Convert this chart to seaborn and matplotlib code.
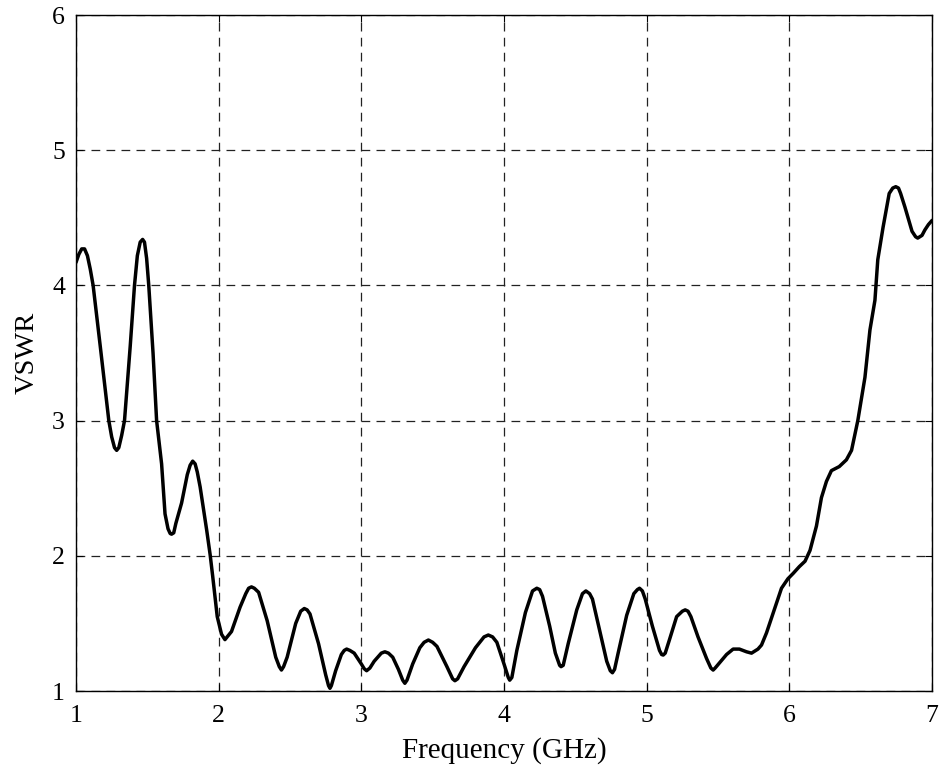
import matplotlib
matplotlib.use("Agg")
import matplotlib.pyplot as plt
import seaborn as sns
import pandas as pd

freq = [1.00, 1.02, 1.04, 1.06, 1.08, 1.10, 1.12, 1.17, 1.23, 1.25, 1.27, 1.285, 1.30, 1.32, 1.34,
        1.38, 1.41, 1.43, 1.45, 1.467, 1.48, 1.495, 1.51, 1.54, 1.565, 1.60, 1.624, 1.645, 1.66,
        1.67, 1.685, 1.70, 1.74, 1.78, 1.80, 1.818, 1.835, 1.85, 1.87, 1.916, 1.94, 1.958, 1.99,
        2.02, 2.044, 2.09, 2.15, 2.19, 2.21, 2.23, 2.25, 2.28, 2.34, 2.40, 2.425, 2.44, 2.455,
        2.48, 2.54, 2.575, 2.60, 2.62, 2.64, 2.70, 2.75, 2.77, 2.78, 2.79, 2.82, 2.86, 2.88, 2.897,
        2.92, 2.95, 3.00, 3.02, 3.037, 3.06, 3.09, 3.14, 3.165, 3.19, 3.22, 3.26, 3.29, 3.305,
        3.32, 3.36, 3.41, 3.44, 3.47, 3.50, 3.53, 3.60, 3.64, 3.656, 3.675, 3.72, 3.80, 3.86, 3.89,
        3.92, 3.95, 4.00, 4.03, 4.04, 4.055, 4.09, 4.15, 4.20, 4.23, 4.25, 4.27, 4.32, 4.36, 4.39,
        4.40, 4.415, 4.45, 4.51, 4.55, 4.574, 4.60, 4.62, 4.67, 4.72, 4.745, 4.76, 4.775, 4.80,
        4.86, 4.91, 4.935, 4.95, 4.97, 4.99, 5.04, 5.09, 5.105, 5.116, 5.13, 5.16, 5.21, 5.25,
        5.27, 5.29, 5.31, 5.36, 5.42, 5.45, 5.466, 5.48, 5.52, 5.56, 5.606, 5.65, 5.70, 5.735,
        5.78, 5.805, 5.84, 5.90, 5.945, 5.99, 6.027, 6.07, 6.11, 6.145, 6.19, 6.225, 6.26, 6.295,
        6.35, 6.40, 6.436, 6.48, 6.53, 6.565, 6.60, 6.62, 6.657, 6.70, 6.725, 6.746, 6.765, 6.78,
        6.81, 6.86, 6.885, 6.90, 6.915, 6.93, 6.95, 6.975, 7.00]
vswr = [4.17, 4.23, 4.27, 4.27, 4.22, 4.12, 4.00, 3.55, 3.00, 2.88, 2.80, 2.78, 2.80, 2.89, 3.00,
        3.55, 4.00, 4.22, 4.32, 4.34, 4.32, 4.20, 4.00, 3.50, 3.00, 2.68, 2.31, 2.20, 2.165,
        2.16, 2.17, 2.24, 2.39, 2.60, 2.67, 2.70, 2.68, 2.62, 2.51, 2.19, 2.01, 1.85, 1.55,
        1.42, 1.38, 1.44, 1.62, 1.72, 1.76, 1.77, 1.76, 1.73, 1.52, 1.25, 1.18, 1.155, 1.18,
        1.25, 1.50, 1.59, 1.61, 1.60, 1.57, 1.35, 1.12, 1.04, 1.02, 1.04, 1.15, 1.27, 1.30, 1.31,
        1.30, 1.28, 1.20, 1.165, 1.15, 1.17, 1.22, 1.28, 1.29, 1.28, 1.25, 1.16, 1.08, 1.057,
        1.08, 1.20, 1.32, 1.36, 1.377, 1.36, 1.33, 1.18, 1.09, 1.076, 1.09, 1.18, 1.32, 1.40, 1.414,
        1.40, 1.36, 1.20, 1.10, 1.08, 1.10, 1.30, 1.58, 1.74, 1.76, 1.75, 1.70, 1.48, 1.28, 1.19,
        1.18, 1.19, 1.35, 1.60, 1.72, 1.74, 1.72, 1.68, 1.45, 1.22, 1.15, 1.135, 1.16, 1.28,
        1.56, 1.72, 1.75, 1.76, 1.74, 1.68, 1.48, 1.30, 1.27, 1.266, 1.28, 1.38, 1.55, 1.59,
        1.60, 1.59, 1.55, 1.40, 1.24, 1.17, 1.155, 1.17, 1.22, 1.27, 1.31, 1.31, 1.29, 1.28,
        1.31, 1.34, 1.43, 1.62, 1.76, 1.83, 1.87, 1.92, 1.96, 2.04, 2.22, 2.43, 2.55, 2.63,
        2.66, 2.71, 2.78, 3.00, 3.32, 3.67, 3.89, 4.19, 4.43, 4.68, 4.72, 4.73, 4.72, 4.68,
        4.58, 4.40, 4.36, 4.35, 4.36, 4.37, 4.41, 4.45, 4.48]

x_ticks = [1, 2, 3, 4, 5, 6, 7]
y_ticks = [1, 2, 3, 4, 5, 6]

sns.set_theme(style="white")
plt.rcParams['font.family'] = ['Liberation Serif', 'DejaVu Serif']

df = pd.DataFrame({"Frequency": freq, "VSWR": vswr})

fig = plt.figure(figsize=(9.44, 7.74), dpi=100)
ax = fig.add_axes([76 / 944, 83 / 774, (932 - 76) / 944, (691 - 15) / 774])

sns.lineplot(data=df, x="Frequency", y="VSWR", ax=ax, color="black", linewidth=2.5,
             sort=False, estimator=None)

ax.set_xlim(1, 7)
ax.set_ylim(1, 6)
ax.set_xticks(x_ticks)
ax.set_yticks(y_ticks)
ax.set_xticklabels([str(t) for t in x_ticks], fontsize=18.5)
ax.set_yticklabels([str(t) for t in y_ticks], fontsize=18.5)
ax.set_xlabel("Frequency (GHz)", fontsize=21, color="black", labelpad=7)
ax.set_ylabel("VSWR", fontsize=20.5, color="black", labelpad=9)

ax.grid(True, color="#222222", linestyle=(0, (7, 5)), linewidth=0.9)
ax.set_axisbelow(True)
for s in ax.spines.values():
    s.set_color("black")
    s.set_linewidth(1.0)
ax.tick_params(axis="x", direction="in", length=5, width=0.8, colors="black", top=True,
               bottom=True, pad=10)
ax.tick_params(axis="y", direction="in", length=5, width=0.8, colors="black", left=True,
               right=True, pad=8)

fig.savefig("out.png", dpi=100, facecolor="white")
